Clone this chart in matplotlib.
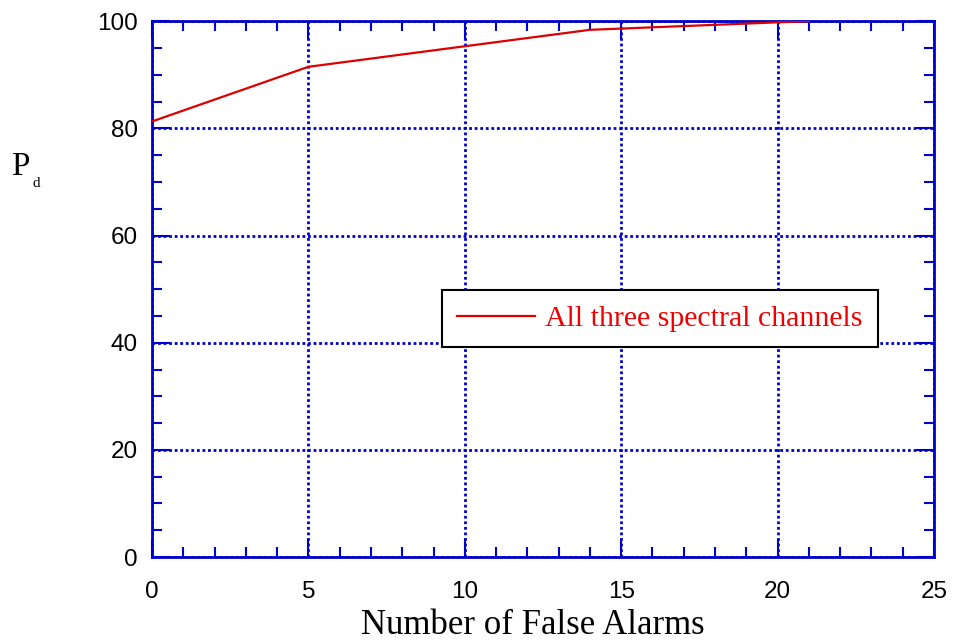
import numpy as np
import matplotlib
matplotlib.use("Agg")
import matplotlib.pyplot as plt
from matplotlib.ticker import MultipleLocator

# data
false_alarms = [0, 5, 14, 20, 21]
pd_values = [81.3, 91.5, 98.4, 99.8, 100.0]
series_label = "All three spectral channels"

blue = "#0000cc"

fig = plt.figure(figsize=(9.56, 6.44), dpi=100)
ax = fig.add_axes([0.159, 0.135, 0.818, 0.832])

ax.plot(false_alarms, pd_values, color="#dd0000", lw=1.6, label=series_label, zorder=3)

ax.set_xlim(0, 25)
ax.set_ylim(0, 100)
ax.xaxis.set_major_locator(MultipleLocator(5))
ax.xaxis.set_minor_locator(MultipleLocator(1))
ax.yaxis.set_major_locator(MultipleLocator(20))
ax.yaxis.set_minor_locator(MultipleLocator(5))

ax.grid(True, which="major", color=blue, linestyle=(0, (1, 1)), linewidth=2)

for sp in ax.spines.values():
    sp.set_color(blue)
    sp.set_linewidth(2)

ax.tick_params(which="both", direction="in", top=True, right=True, color=blue)
ax.tick_params(which="major", length=13, width=1.5, pad=10)
ax.tick_params(axis="x", which="major", pad=17)
ax.tick_params(which="minor", length=7, width=1.5)
for lab in ax.get_xticklabels() + ax.get_yticklabels():
    lab.set_family("Liberation Sans")
    lab.set_fontsize(17.5)

ax.set_xlabel("Number of False Alarms", family="Liberation Serif", fontsize=25)
ax.xaxis.set_label_coords(0.487, -0.097)

fig.text(0.012, 0.728, "P", family="Liberation Serif", fontsize=24, ha="left", va="baseline")
fig.text(0.034, 0.71, "d", family="Liberation Serif", fontsize=11, ha="left", va="baseline")

leg = ax.legend(loc="upper left", bbox_to_anchor=(0.371, 0.498), frameon=True, fancybox=False,
                edgecolor="black", handlelength=2.6, handletextpad=0.35, borderpad=0.5,
                borderaxespad=0, prop={"family": "Liberation Serif", "size": 21.5})
leg.get_frame().set_linewidth(1.5)
leg.get_frame().set_alpha(1)
for t in leg.get_texts():
    t.set_color("#ee0000")

fig.savefig("out.png", dpi=100)
